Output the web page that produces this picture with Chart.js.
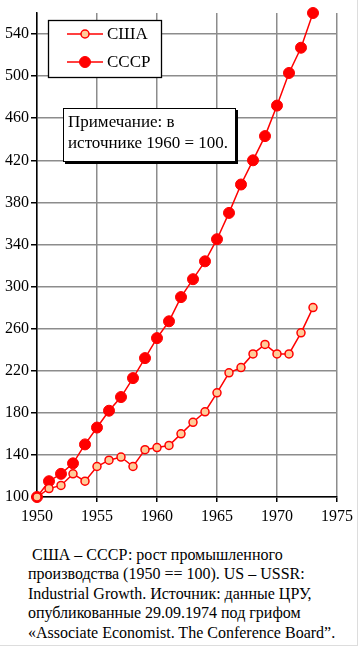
<!DOCTYPE html>
<html>
<head>
<meta charset="utf-8">
<script src="https://cdn.jsdelivr.net/npm/chart.js@4"></script>
<style>
    body { margin: 0; background: #fff; }
    #wrap { position: relative; width: 357px; height: 645px; border-right: 1px solid #ddd; border-bottom: 1px solid #ddd; overflow: hidden; }
    #box { width: 361px; height: 530px; }
    #caption { font-family: "Liberation Serif", serif; font-size: 16px; line-height: 19.4px; color: #000; padding-left: 28px; margin-top: 15px; white-space: nowrap; }
</style>
</head>
<body>
<div id="wrap">
    <div id="box"><canvas id="chart"></canvas></div>
    <div id="caption">&nbsp;США – СССР: рост промышленного<br>производства (1950 == 100). US – USSR:<br>Industrial Growth. Источник: данные ЦРУ,<br>опубликованные 29.09.1974 под грифом<br>«Associate Economist. The Conference Board”.</div>
</div>
<script>
let years = [1950, 1951, 1952, 1953, 1954, 1955, 1956, 1957, 1958, 1959, 1960, 1961,
             1962, 1963, 1964, 1965, 1966, 1967, 1968, 1969, 1970, 1971, 1972, 1973];
let usa  = [100, 108, 111, 122, 115, 129, 135, 138, 129, 145, 147, 149,
            160, 171, 181, 199, 218, 223, 236, 245, 236, 236, 256, 280];
let ussr = [100, 115, 122, 132, 150, 166, 182, 195, 213, 232, 251, 267,
            290, 307, 324, 345, 370, 397, 420, 443, 472, 503, 527, 560];
let seriesNames = ['США', 'СССР'];
let noteLines = ['Примечание: в', 'источнике 1960 = 100.'];

const serif = '"Liberation Serif", serif';
const font = { family: serif, size: 16 };

function toPoints(vals) {
    return vals.map((v, i) => ({ x: years[i], y: v }));
}

function isMajor(v) {
    return v === 560 || (v - 100) % 40 === 0;
}

// legend box and the note, drawn over the plot
const boxes = {
    id: 'boxes',
    afterDraw(chart) {
        let ctx = chart.ctx;
        ctx.save();
        // legend
        ctx.fillStyle = '#fff';
        ctx.fillRect(48, 20, 114, 58);
        ctx.strokeStyle = '#000';
        ctx.lineWidth = 1.3;
        ctx.strokeRect(48.5, 20.5, 113, 57);
        chart.data.datasets.forEach((ds, i) => {
            let y = 34 + i * 28;
            ctx.strokeStyle = ds.borderColor;
            ctx.lineWidth = 1.5;
            ctx.beginPath();
            ctx.moveTo(67, y);
            ctx.lineTo(103, y);
            ctx.stroke();
            ctx.beginPath();
            ctx.arc(85, y, ds.pointRadius, 0, Math.PI * 2);
            ctx.fillStyle = ds.pointBackgroundColor;
            ctx.fill();
            ctx.lineWidth = ds.pointBorderWidth;
            ctx.strokeStyle = ds.pointBorderColor;
            ctx.stroke();
            ctx.fillStyle = '#000';
            ctx.font = '17px ' + serif;
            ctx.textBaseline = 'middle';
            ctx.fillText(ds.label, 107, y + 1);
        });
        // note with shadow
        ctx.fillStyle = '#000';
        ctx.fillRect(65, 110, 173, 54);
        ctx.fillStyle = '#fff';
        ctx.fillRect(63, 108, 173, 54);
        ctx.strokeStyle = '#000';
        ctx.lineWidth = 1;
        ctx.strokeRect(63.5, 108.5, 172, 53);
        ctx.fillStyle = '#000';
        ctx.font = '17px ' + serif;
        ctx.textBaseline = 'middle';
        noteLines.forEach((t, i) => ctx.fillText(t, 68, 123 + i * 21));
        ctx.restore();
    }
};

let ctx = document.querySelector('#chart');
var chart = new Chart(ctx, {
    type: 'line',
    data: {
        datasets: [{
            label: seriesNames[0],
            data: toPoints(usa),
            borderColor: '#ff0000',
            borderWidth: 1.5,
            pointRadius: 4,
            pointBackgroundColor: '#ffcc99',
            pointBorderColor: '#ff0000',
            pointBorderWidth: 1.5,
            clip: false
        }, {
            label: seriesNames[1],
            data: toPoints(ussr),
            borderColor: '#ff0000',
            borderWidth: 1.5,
            pointRadius: 5.5,
            pointBackgroundColor: '#ff0000',
            pointBorderColor: '#ff0000',
            pointBorderWidth: 1,
            clip: false
        }]
    },
    options: {
        responsive: true,
        maintainAspectRatio: false,
        animation: false,
        layout: { padding: { top: 13, right: 24, left: 0, bottom: 0 } },
        plugins: {
            legend: { display: false },
            tooltip: { enabled: false }
        },
        scales: {
            x: {
                type: 'linear',
                min: 1950,
                max: 1975,
                ticks: { stepSize: 5, color: '#000', font: font, padding: 5, callback: v => String(v) },
                grid: { color: '#8c8c8c', lineWidth: 1.5, tickColor: '#000', tickLength: 5, tickWidth: 1.5 },
                border: { color: '#000', width: 1.5 },
                afterFit: s => { s.height = 33; }
            },
            y: {
                min: 100,
                max: 560,
                ticks: {
                    stepSize: 20,
                    color: '#000',
                    font: font,
                    padding: 2,
                    callback: v => ((v - 100) % 40 === 0 && v < 560) ? String(v) : ''
                },
                grid: {
                    color: c => isMajor(c.tick.value) ? '#8c8c8c' : '#d0d0d0',
                    lineWidth: c => isMajor(c.tick.value) ? 1.5 : 1.2,
                    tickColor: c => ((c.tick.value - 100) % 40 === 0 && c.tick.value < 560) ? '#000' : 'rgba(0,0,0,0)',
                    tickLength: 6,
                    tickWidth: 1.5
                },
                border: { color: '#000', width: 1.5 },
                afterFit: s => { s.width = 37; }
            }
        }
    },
    plugins: [boxes]
});
</script>
</body>
</html>
